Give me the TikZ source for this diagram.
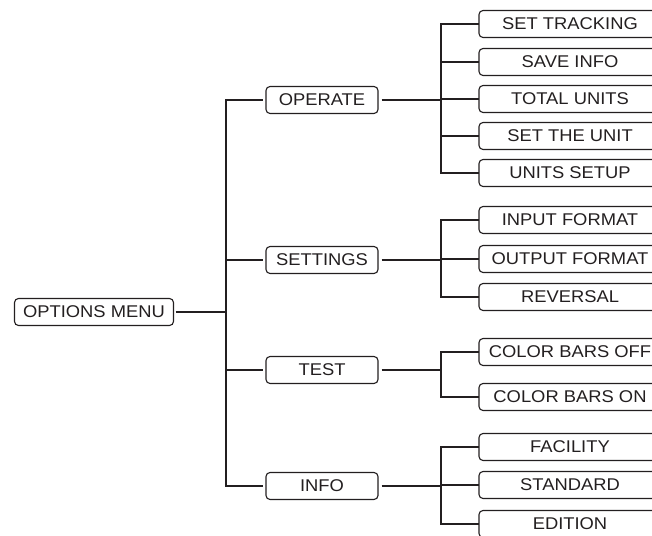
\documentclass[tikz,border=0pt]{standalone}
\usepackage{fontspec}
\setmainfont{Liberation Sans}[FakeStretch=1.08]
\definecolor{ink}{HTML}{231F20}
\begin{document}
\begin{tikzpicture}[x=1bp,y=-1bp,
  box/.style={draw=ink,line width=1.1bp,rounded corners=4bp,text=ink,
    font=\fontsize{17bp}{18bp}\selectfont,inner sep=0pt,anchor=center},
  rootbox/.style={box,minimum width=159bp,minimum height=27bp,outer sep=2bp},
  midbox/.style={box,minimum width=112bp,minimum height=27bp,outer sep=3.5bp},
  leafbox/.style={box,minimum width=182bp,minimum height=27bp,outer sep=0pt},
  conn/.style={draw=ink,line width=2.7bp,line join=miter}]
\useasboundingbox (0,0) rectangle (652,536);
% root
\node[rootbox] (menu) at (94,312) {OPTIONS MENU};
% middle level
\node[midbox] (operate)  at (322,100) {OPERATE};
\node[midbox] (settings) at (322,260) {SETTINGS};
\node[midbox] (test)     at (322,370) {TEST};
\node[midbox] (info)     at (322,486) {INFO};
% leaves
\node[leafbox] (settrack) at (570,24)  {SET TRACKING};
\node[leafbox] (saveinfo) at (570,62)  {SAVE INFO};
\node[leafbox] (total)    at (570,99)  {TOTAL UNITS};
\node[leafbox] (setunit)  at (570,136) {SET THE UNIT};
\node[leafbox] (setup)    at (570,173) {UNITS SETUP};
\node[leafbox] (input)    at (570,220) {INPUT FORMAT};
\node[leafbox] (output)   at (570,259) {OUTPUT FORMAT};
\node[leafbox] (reversal) at (570,297) {REVERSAL};
\node[leafbox] (cboff)    at (570,352) {COLOR BARS OFF};
\node[leafbox] (cbon)     at (570,397) {COLOR BARS ON};
\node[leafbox] (facility) at (570,447) {FACILITY};
\node[leafbox] (standard) at (570,485) {STANDARD};
\node[leafbox] (edition)  at (570,524) {EDITION};
% trunk coordinates
\coordinate (t1) at (226,0);
\coordinate (t2) at (441,0);
% root to middle level
\draw[conn] (menu.east) -- (menu -| t1);
\draw[conn] (operate.west) -- (operate -| t1) -- (info -| t1) -- (info.west);
\draw[conn] (settings.west) -- (settings -| t1);
\draw[conn] (test.west) -- (test -| t1);
% middle to leaves
\foreach \m/\a/\b in {operate/settrack/setup, settings/input/reversal, test/cboff/cbon, info/facility/edition}{
  \draw[conn] (\a.west) -- (\a -| t2) -- (\b -| t2) -- (\b.west);
  \draw[conn] (\m.east) -- (\m -| t2);
}
\foreach \c in {saveinfo,total,setunit,output,standard}{
  \draw[conn] (\c -| t2) -- (\c.west);
}
\end{tikzpicture}
\end{document}
